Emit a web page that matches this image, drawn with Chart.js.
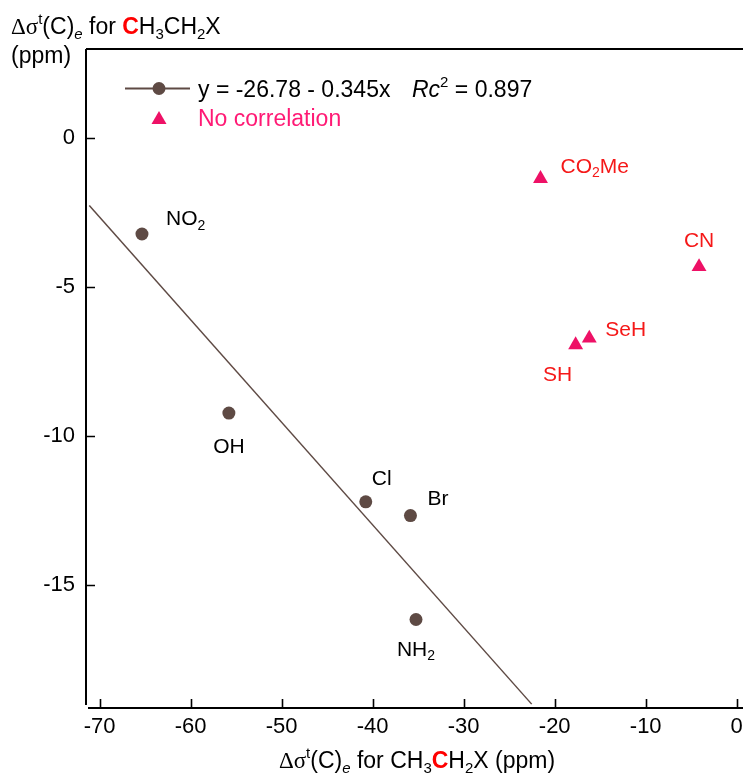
<!DOCTYPE html>
<html>
<head>
<meta charset="utf-8">
<script src="https://cdn.jsdelivr.net/npm/chart.js@4.4.1/dist/chart.umd.min.js"></script>
<style>
  html, body { margin: 0; padding: 0; background: #fff; }
  #wrap { width: 743px; height: 775px; }
</style>
</head>
<body>
<div id="wrap"><canvas id="grafica" width="743" height="775"></canvas></div>
<script>
// datos
const corrLabels = ['NO2', 'OH', 'Cl', 'Br', 'NH2'];
const corrX = [-65.35, -55.8, -40.76, -35.85, -35.24];
const corrY = [-3.23, -9.24, -12.22, -12.68, -16.17];

const noCorrLabels = ['CO2Me', 'CN', 'SeH', 'SH'];
const noCorrX = [-21.56, -4.14, -16.2, -17.7];
const noCorrY = [-1.37, -4.33, -6.73, -6.95];

// recta de regresion y = -26.78 - 0.345x (extremos)
const fitX = [-71.14, -22.53];
const fitY = [-2.27, -19.01];

const xTicks = [-70, -60, -50, -40, -30, -20, -10, 0];
const yTicks = [0, -5, -10, -15];

const BROWN = '#5e4a44';
const PINK = '#ee1166';
const RED = '#f51818';
const FONT = '"Liberation Sans", Arial, sans-serif';
const SERIF = '"Liberation Serif", "Times New Roman", serif';

// texto con sub/superindices
function drawRich(ctx, segs, x, y, size, align) {
  const parts = segs.map(s => {
    const sz = (s.sub || s.sup) ? Math.round(size * 0.66) : size;
    const f = (s.italic ? 'italic ' : '') + (s.bold ? 'bold ' : '') + sz + 'px ' + (s.serif ? SERIF : FONT);
    ctx.font = f;
    return { s, f, w: ctx.measureText(s.t).width };
  });
  const total = parts.reduce((a, p) => a + p.w, 0);
  let cx = x;
  if (align === 'center') cx = x - total / 2;
  if (align === 'right') cx = x - total;
  ctx.textAlign = 'left';
  ctx.textBaseline = 'alphabetic';
  parts.forEach(p => {
    ctx.font = p.f;
    ctx.fillStyle = p.s.color || '#000';
    let dy = 0;
    if (p.s.sub) dy = size * 0.22;
    if (p.s.sup) dy = -size * 0.42;
    ctx.fillText(p.s.t, cx, y + dy);
    cx += p.w;
  });
  return total;
}

function formula(str, color) {
  return str.split('').map(ch => /[0-9]/.test(ch) ? { t: ch, sub: true, color } : { t: ch, color });
}

// offsets de etiquetas (dx, dy de la linea base, alineacion)
const corrPos = [[24, -9, 'left'], [0, 40, 'center'], [6, -17, 'left'], [17, -11, 'left'], [0, 36, 'center']];
const noCorrPos = [[20, -6, 'left'], [0, -20, 'center'], [16, -2, 'left'], [-18, 36, 'center']];

const decoracion = {
  id: 'decoracion',
  afterDraw(chart) {
    const ctx = chart.ctx;
    const xs = chart.scales.x, ys = chart.scales.y;
    const a = chart.chartArea;
    ctx.save();
    // ejes
    ctx.strokeStyle = '#000';
    ctx.lineWidth = 2;
    ctx.beginPath();
    ctx.moveTo(a.left, a.top); ctx.lineTo(a.right, a.top);
    ctx.moveTo(a.left, a.top); ctx.lineTo(a.left, a.bottom - 3);
    ctx.moveTo(a.left + 2, a.bottom); ctx.lineTo(a.right, a.bottom);
    ctx.stroke();
    ctx.lineWidth = 1.6;
    ctx.beginPath();
    xTicks.forEach(v => {
      const px = Math.round(xs.getPixelForValue(v)) + 0.5;
      ctx.moveTo(px, a.bottom); ctx.lineTo(px, a.bottom - 9);
    });
    yTicks.forEach(v => {
      const py = Math.round(ys.getPixelForValue(v)) + 0.5;
      ctx.moveTo(a.left, py); ctx.lineTo(a.left + 9, py);
    });
    ctx.stroke();

    // etiquetas de los ejes
    ctx.fillStyle = '#000';
    ctx.font = '22px ' + FONT;
    ctx.textBaseline = 'middle';
    ctx.textAlign = 'center';
    xTicks.forEach(v => ctx.fillText(String(v), xs.getPixelForValue(v), a.bottom + 19));
    ctx.textAlign = 'right';
    yTicks.forEach(v => ctx.fillText(String(v), a.left - 11, ys.getPixelForValue(v)));

    // etiquetas de puntos
    corrLabels.forEach((lab, i) => {
      const p = corrPos[i];
      drawRich(ctx, formula(lab, '#000'), xs.getPixelForValue(corrX[i]) + p[0], ys.getPixelForValue(corrY[i]) + p[1], 21, p[2]);
    });
    noCorrLabels.forEach((lab, i) => {
      const p = noCorrPos[i];
      drawRich(ctx, formula(lab, RED), xs.getPixelForValue(noCorrX[i]) + p[0], ys.getPixelForValue(noCorrY[i]) + p[1], 21, p[2]);
    });

    // leyenda
    ctx.strokeStyle = BROWN;
    ctx.lineWidth = 1.8;
    ctx.beginPath(); ctx.moveTo(125, 88.5); ctx.lineTo(190, 88.5); ctx.stroke();
    ctx.fillStyle = BROWN;
    ctx.beginPath(); ctx.arc(159, 88.5, 6.5, 0, Math.PI * 2); ctx.fill();
    ctx.fillStyle = PINK;
    ctx.beginPath(); ctx.moveTo(159, 111); ctx.lineTo(166.5, 124); ctx.lineTo(151.5, 124); ctx.closePath(); ctx.fill();
    drawRich(ctx, [{ t: 'y = -26.78 - 0.345x' }], 198, 97, 23, 'left');
    drawRich(ctx, [{ t: 'Rc', italic: true }, { t: '2', sup: true }, { t: ' = 0.897' }], 412, 97, 23, 'left');
    drawRich(ctx, [{ t: 'No correlation', color: '#ff1a75' }], 198, 126, 23, 'left');

    // titulos
    const base = [
      { t: '\u0394\u03c3', serif: true }, { t: 't', sup: true }, { t: '(C)' }, { t: 'e', sub: true, italic: true }, { t: ' for ' }
    ];
    drawRich(ctx, base.concat([
      { t: 'C', bold: true, color: '#ff0000' }, { t: 'H' }, { t: '3', sub: true }, { t: 'CH' }, { t: '2', sub: true }, { t: 'X' }
    ]), 11, 34, 23, 'left');
    drawRich(ctx, [{ t: '(ppm)' }], 11, 63, 23, 'left');
    drawRich(ctx, base.concat([
      { t: 'CH' }, { t: '3', sub: true }, { t: 'C', bold: true, color: '#ff0000' }, { t: 'H' }, { t: '2', sub: true }, { t: 'X (ppm)' }
    ]), 417, 768, 23, 'center');
    ctx.restore();
  }
};

new Chart(document.getElementById('grafica'), {
  type: 'scatter',
  data: {
    datasets: [{
      label: 'ajuste',
      data: fitX.map((x, i) => ({ x, y: fitY[i] })),
      showLine: true,
      borderColor: BROWN,
      borderWidth: 1.5,
      pointRadius: 0
    }, {
      label: 'correlacion',
      data: corrX.map((x, i) => ({ x, y: corrY[i] })),
      backgroundColor: BROWN,
      borderWidth: 0,
      pointRadius: 6.5
    }, {
      label: 'No correlation',
      data: noCorrX.map((x, i) => ({ x, y: noCorrY[i] })),
      pointStyle: 'triangle',
      backgroundColor: PINK,
      borderColor: PINK,
      borderWidth: 0,
      pointRadius: 8.6
    }]
  },
  options: {
    responsive: false,
    animation: false,
    layout: { autoPadding: false, padding: { top: 49, left: 0, right: 0, bottom: 0 } },
    plugins: { legend: { display: false }, tooltip: { enabled: false } },
    scales: {
      x: {
        type: 'linear',
        min: -71.5,
        max: 0.69,
        afterBuildTicks: s => { s.ticks = xTicks.map(v => ({ value: v })); },
        afterFit: s => { s.height = 67; },
        grid: { display: false },
        border: { display: false },
        ticks: { display: false }
      },
      y: {
        type: 'linear',
        min: -19.14,
        max: 2.98,
        afterBuildTicks: s => { s.ticks = yTicks.map(v => ({ value: v })); },
        afterFit: s => { s.width = 86; },
        grid: { display: false },
        border: { display: false },
        ticks: { display: false }
      }
    }
  },
  plugins: [decoracion]
});
</script>
</body>
</html>
